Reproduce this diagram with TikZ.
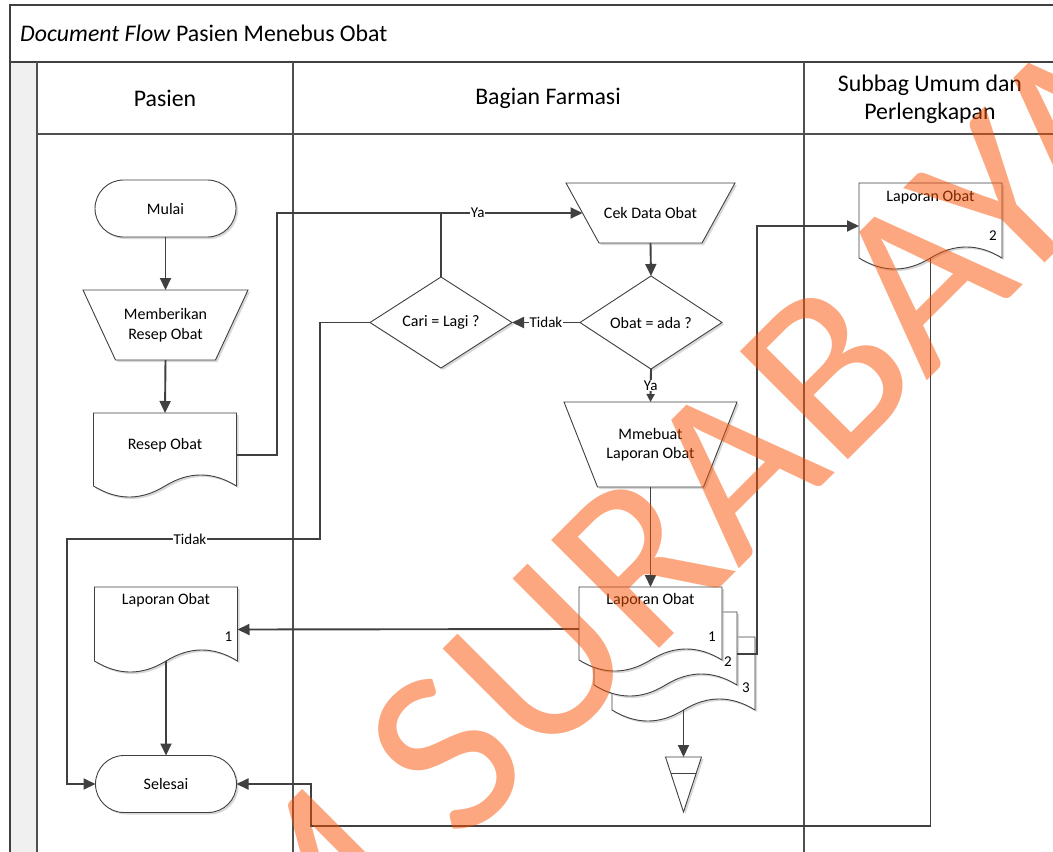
\documentclass[tikz,border=0pt]{standalone}
\usepackage{fontspec}
\setmainfont{Carlito}
\newfontfamily\markfont{Carlito}
\usetikzlibrary{shapes.geometric,shapes.misc,arrows.meta,calc,shadows}

\definecolor{ink}{RGB}{64,64,64}
\definecolor{laneink}{RGB}{80,80,80}
\definecolor{laneband}{RGB}{240,240,240}
\definecolor{wmark}{RGB}{250,80,0}

\newcommand\nodefont{\fontsize{16}{19.5}\selectfont}
\newcommand\lblfont{\fontsize{15}{18}\selectfont}
\newcommand\headfont{\fontsize{23.8}{28}\selectfont}

\pgfdeclarelayer{lanes}
\pgfdeclarelayer{shapes}
\pgfdeclarelayer{mark}
\pgfsetlayers{lanes,shapes,main,mark}

\tikzset{
  frame/.style={draw=ink, line width=1.8pt},
  lane/.style={draw=laneink, line width=1.4pt},
  softshadow/.style={drop shadow={shadow xshift=2pt, shadow yshift=-2pt, fill=black!25, opacity=0.6}},
  outline/.style={draw=ink, line width=0.9pt, fill=white, softshadow},
  plain/.style={inner sep=0pt, outer sep=0pt, align=center, font=\nodefont},
  term/.style={plain, rounded rectangle, outline, minimum width=141, minimum height=57},
  dec/.style={plain, diamond, outline, minimum width=142, minimum height=83},
  doc/.style={plain, minimum width=143, minimum height=84},
  conn/.style={draw=ink, line width=1.9pt},
  arr/.style={conn, -{Triangle[length=12pt,width=11pt]}},
  smallarr/.style={conn, -{Triangle[length=8pt,width=8pt]}},
  lbl/.style={fill=white, inner sep=1pt, font=\lblfont},
  num/.style={inner sep=0pt, font=\lblfont},
}

% document symbol with a wavy lower edge, fitted to node #1
\newcommand\docpath[1]{%
  \path[outline] let \p1=(#1.north west), \p2=(#1.south east), \n1={(\x2-\x1)/6} in
    (\p1) -- (\x2,\y1) -- (\x2,\y2+11pt)
    .. controls (\x2-\n1,\y2+25.7pt) and (\x2-2*\n1,\y2+25.7pt) .. (\x2-3*\n1,\y2+11pt)
    .. controls (\x2-4*\n1,\y2-3.7pt) and (\x2-5*\n1,\y2-3.7pt) .. (\x1,\y2+11pt) -- cycle;}
% manual operation symbol fitted to node #1, lower edge inset by #2
\newcommand\manpath[2]{%
  \path[outline] (#1.north west) -- (#1.north east) -- ([xshift=-#2pt]#1.south east)
    -- ([xshift=#2pt]#1.south west) -- cycle;}

\begin{document}
\begin{tikzpicture}[x=1pt,y=-1pt]
\useasboundingbox (0,0) rectangle (1053,852);

% swimlane frame
\begin{pgfonlayer}{lanes}
  \fill[white] (0,0) rectangle (1053,852);
  \fill[laneband] (10,62) rectangle (37,870);
  \draw[frame] (10,870) -- (10,5) -- (1070,5);
  \draw[frame] (10,62) -- (1070,62);
  \draw[lane] (37,62) -- (37,870);
  \draw[lane] (293,62) -- (293,870);
  \draw[lane] (804,62) -- (804,870);
  \draw[lane] (37,134) -- (1070,134);
\end{pgfonlayer}

\node[anchor=west, inner sep=0pt, font=\headfont] (title) at (20,33)
  {\textit{Document Flow} Pasien Menebus Obat};
\node[font=\headfont] (h1) at (165,98) {Pasien};
\node[font=\headfont] (h2) at (548,98) {Bagian Farmasi};
\node[font=\headfont, align=center] (h3) at (930,99) {Subbag Umum dan\\Perlengkapan};

% flow symbols
\node[term] (mulai) at (165.5,208.5) {Mulai};
\node[plain, minimum width=165, minimum height=70] (beri) at (165.5,325) {Memberikan\\Resep Obat};
\node[doc] (resep) at (165,455) {};
\node[plain, minimum width=169, minimum height=60] (cek) at (650.5,213) {Cek Data Obat};
\node[dec] (obat) at (651,322.5) {Obat = ada ?};
\node[dec] (cari) at (441,322.5) {Cari = Lagi ?};
\node[plain, minimum width=173, minimum height=85] (buat) at (650.5,444.5) {Mmebuat\\Laporan Obat};
\node[doc] (lapf3) at (683.5,679) {};
\node[doc] (lapf2) at (665.5,654) {};
\node[doc] (lapf) at (650.5,629) {};
\node[plain, minimum width=36, minimum height=55] (store) at (683.5,784.5) {};
\node[doc, minimum height=85] (lap1) at (166,629.5) {};
\node[term] (selesai) at (166,784) {Selesai};
\node[doc, minimum height=86] (lap2) at (930.5,226) {};

\begin{pgfonlayer}{shapes}
  \manpath{beri}{32.5}
  \docpath{resep}
  \manpath{cek}{33}
  \manpath{buat}{33.5}
  \docpath{lapf3}
  \docpath{lapf2}
  \docpath{lapf}
  \docpath{lap1}
  \docpath{lap2}
  \path[outline] (store.north west) -- (store.north east) -- (store.south) -- cycle;
  \draw[draw=ink, line width=0.9pt] ($(store.north west)!0.29!(store.south)$)
    -- ($(store.north east)!0.29!(store.south)$);
\end{pgfonlayer}

% document captions and copy numbers
\node[plain] at ([yshift=10pt]resep.center) {Resep Obat};
\node[plain] at ([yshift=-13pt]lap1.north) {Laporan Obat};
\node[num] at ([xshift=-9pt,yshift=-7.5pt]lap1.east) {1};
\node[plain] at ([yshift=-13pt]lapf.north) {Laporan Obat};
\node[num] at ([xshift=-10pt,yshift=-8pt]lapf.east) {1};
\node[num] at ([xshift=-9pt,yshift=-8pt]lapf2.east) {2};
\node[num] at ([xshift=-9pt,yshift=-9pt]lapf3.east) {3};
\node[plain] at ([yshift=-14pt]lap2.north) {Laporan Obat};
\node[num] at ([xshift=-9pt,yshift=-10pt]lap2.east) {2};

% connectors
\coordinate (r1) at (277,213);
\coordinate (m1) at (757,0);
\coordinate (t1) at (320,539);
\coordinate (t2) at (67,539);
\coordinate (b1) at (311,826);

\draw[arr] (mulai.south) -- (beri.north);
\draw[arr] (beri.south) -- (resep.north);
\draw[arr] (resep.east) -| (r1) -- node[lbl, pos=0.657] {Ya} ([xshift=16.5pt]cek.west);
\draw[conn] (cari.north) -- (cari.north |- r1);
\draw[arr] (cek.south) -- (obat.north);
\draw[arr] (obat.west) -- node[lbl] {Tidak} (cari.east);
\draw[smallarr] (obat.south) -- node[lbl] {Ya} (buat.north);
\draw[arr] (buat.south) -- (lapf.north);
\draw[arr] (lapf.west) -- (lap1.east);
\draw[arr] (lapf2.east) -| (m1 |- lap2.west) -- (lap2.west);
\draw[arr] ([yshift=11pt]lapf3.south) -- (store.north);
\draw[arr] ([yshift=11pt]lap1.south) -- (selesai.north);
\draw[arr] (cari.west) -| (t1) -- node[lbl, pos=0.514] {Tidak} (t2) |- (selesai.west);
\draw[arr] ([yshift=11pt]lap2.south) |- (b1) |- (selesai.east);

% watermark
\begin{pgfonlayer}{mark}
  \node[rotate=45, anchor=base west, inner sep=0pt, text=wmark, text opacity=0.5,
        font=\markfont\fontsize{238}{238}\selectfont] (wm) at (462,846) {\llap{STIKOM }SURABAYA};
\end{pgfonlayer}
\end{tikzpicture}
\end{document}
